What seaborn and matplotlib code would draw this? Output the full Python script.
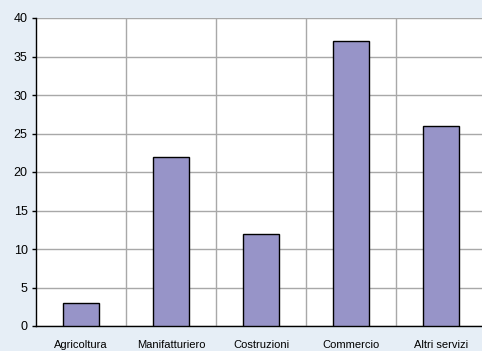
import matplotlib
matplotlib.use("Agg")
import matplotlib.pyplot as plt
import seaborn as sns
import pandas as pd

sectors = ["Agricoltura", "Manifatturiero", "Costruzioni", "Commercio", "Altri servizi"]
values = [3, 22, 12, 37, 26]
y_ticks = [0, 5, 10, 15, 20, 25, 30, 35, 40]

df = pd.DataFrame({"Settore": sectors, "Valore": values})

sns.set_theme(style="white")
plt.rcParams["font.family"] = ["Liberation Sans", "DejaVu Sans"]

bg = "#E6EEF6"
fig = plt.figure(figsize=(4.82, 3.51), dpi=100, facecolor=bg)
ax = fig.add_axes([36 / 482, 1 - 326 / 351, 450 / 482, 308 / 351])
ax.set_facecolor("white")

sns.barplot(data=df, x="Settore", y="Valore", color="#9794C8", width=0.4,
            edgecolor="black", linewidth=1, saturation=1, ax=ax, zorder=3)

ax.set_xlim(-0.5, len(sectors) - 0.5)
ax.set_ylim(0, 40)
ax.set_yticks(y_ticks)
ax.set_xticks([i + 0.5 for i in range(len(sectors) - 1)], minor=True)

ax.grid(axis="y", which="major", color="#A8A8A8", linewidth=1, zorder=0)
ax.grid(axis="x", which="minor", color="#A8A8A8", linewidth=1, zorder=0)
ax.grid(axis="x", which="major", visible=False)

for side in ["top", "right"]:
    ax.spines[side].set_visible(False)
for side in ["left", "bottom"]:
    ax.spines[side].set_color("black")
    ax.spines[side].set_linewidth(1)

ax.tick_params(axis="y", which="major", left=True, length=3, width=1, color="black",
               labelsize=9, labelcolor="black", pad=3)
ax.tick_params(axis="x", which="both", bottom=False, labelsize=8, labelcolor="black", pad=4)
ax.set_xlabel("")
ax.set_ylabel("")

fig.savefig("out.png", dpi=100, facecolor=bg)
